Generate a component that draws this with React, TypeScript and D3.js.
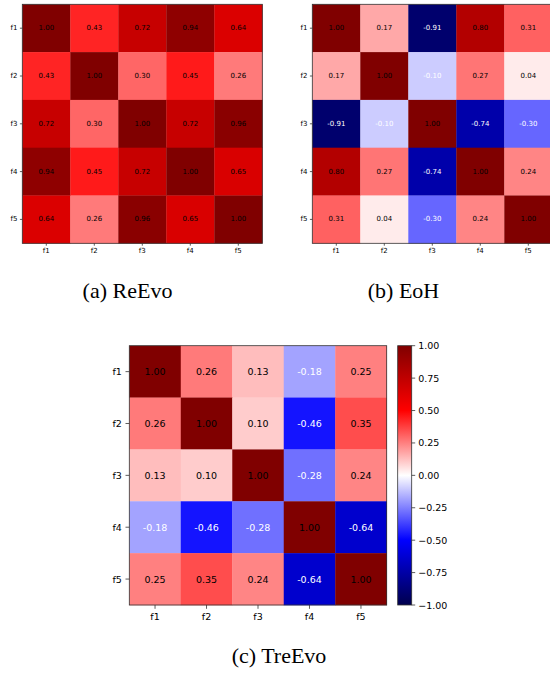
import React from "react";
import * as d3 from "d3";

const labels = ["f1", "f2", "f3", "f4", "f5"];

const reevo = [
  [1.0, 0.43, 0.72, 0.94, 0.64],
  [0.43, 1.0, 0.3, 0.45, 0.26],
  [0.72, 0.3, 1.0, 0.72, 0.96],
  [0.94, 0.45, 0.72, 1.0, 0.65],
  [0.64, 0.26, 0.96, 0.65, 1.0],
];

const eoh = [
  [1.0, 0.17, -0.91, 0.8, 0.31],
  [0.17, 1.0, -0.1, 0.27, 0.04],
  [-0.91, -0.1, 1.0, -0.74, -0.3],
  [0.8, 0.27, -0.74, 1.0, 0.24],
  [0.31, 0.04, -0.3, 0.24, 1.0],
];

const treevo = [
  [1.0, 0.26, 0.13, -0.18, 0.25],
  [0.26, 1.0, 0.1, -0.46, 0.35],
  [0.13, 0.1, 1.0, -0.28, 0.24],
  [-0.18, -0.46, -0.28, 1.0, -0.64],
  [0.25, 0.35, 0.24, -0.64, 1.0],
];

const cbTicks = [1.0, 0.75, 0.5, 0.25, 0.0, -0.25, -0.5, -0.75, -1.0];
const seismicStops = [-1, -0.5, 0, 0.5, 1];
const seismicColors = ["#00004d", "#0000ff", "#ffffff", "#ff0000", "#800000"];

const color = d3.scaleLinear<string>().domain(seismicStops).range(seismicColors).clamp(true);

const SANS = "DejaVu Sans, sans-serif";
const SERIF = "Liberation Serif, Times New Roman, Times, serif";

type HMProps = {
  data: number[][];
  x0: number;
  y0: number;
  w: number;
  h: number;
  font: number;
  tick: number;
  pad: number;
};

function Heatmap({ data, x0, y0, w, h, font, tick, pad }: HMProps) {
  const xs = d3.scaleBand().domain(labels).range([x0, x0 + w]);
  const ys = d3.scaleBand().domain(labels).range([y0, y0 + h]);
  const bw = xs.bandwidth();
  const bh = ys.bandwidth();
  return (
    <g>
      {data.map((row, i) =>
        row.map((v, j) => (
          <rect
            key={`c${i}-${j}`}
            x={xs(labels[j])!}
            y={ys(labels[i])!}
            width={bw + 0.3}
            height={bh + 0.3}
            fill={color(v)}
          />
        ))
      )}
      {data.map((row, i) =>
        row.map((v, j) => (
          <text
            key={`t${i}-${j}`}
            x={xs(labels[j])! + bw / 2}
            y={ys(labels[i])! + bh / 2}
            textAnchor="middle"
            dominantBaseline="central"
            style={{ fontFamily: SANS, fontSize: font }}
            fill={v < 0 ? "#ffffff" : "#000000"}
          >
            {v.toFixed(2)}
          </text>
        ))
      )}
      <rect x={x0} y={y0} width={w} height={h} fill="none" stroke="#333" strokeWidth={0.8} />
      {labels.map((l) => (
        <g key={`y${l}`}>
          <line
            x1={x0 - tick}
            x2={x0}
            y1={ys(l)! + bh / 2}
            y2={ys(l)! + bh / 2}
            stroke="#333"
            strokeWidth={0.8}
          />
          <text
            x={x0 - tick - pad}
            y={ys(l)! + bh / 2}
            textAnchor="end"
            dominantBaseline="central"
            style={{ fontFamily: SANS, fontSize: font }}
            fill="#000"
          >
            {l}
          </text>
        </g>
      ))}
      {labels.map((l) => (
        <g key={`x${l}`}>
          <line
            x1={xs(l)! + bw / 2}
            x2={xs(l)! + bw / 2}
            y1={y0 + h}
            y2={y0 + h + tick}
            stroke="#333"
            strokeWidth={0.8}
          />
          <text
            x={xs(l)! + bw / 2}
            y={y0 + h + tick + pad}
            textAnchor="middle"
            dominantBaseline="hanging"
            style={{ fontFamily: SANS, fontSize: font }}
            fill="#000"
          >
            {l}
          </text>
        </g>
      ))}
    </g>
  );
}

function Colorbar({ x0, y0, w, h }: { x0: number; y0: number; w: number; h: number }) {
  const s = d3.scaleLinear().domain([-1, 1]).range([y0 + h, y0]);
  return (
    <g>
      <defs>
        <linearGradient id="seis" x1="0" y1="1" x2="0" y2="0">
          {seismicStops.map((v, i) => (
            <stop key={i} offset={`${((v + 1) / 2) * 100}%`} stopColor={seismicColors[i]} />
          ))}
        </linearGradient>
      </defs>
      <rect x={x0} y={y0} width={w} height={h} fill="url(#seis)" stroke="#333" strokeWidth={0.8} />
      {cbTicks.map((t) => (
        <g key={t}>
          <line x1={x0 + w} x2={x0 + w + 3.5} y1={s(t)} y2={s(t)} stroke="#333" strokeWidth={0.8} />
          <text
            x={x0 + w + 6.5}
            y={s(t)}
            dominantBaseline="central"
            style={{ fontFamily: SANS, fontSize: 9.5 }}
            fill="#000"
          >
            {t < 0 ? "\u2212" + Math.abs(t).toFixed(2) : t.toFixed(2)}
          </text>
        </g>
      ))}
    </g>
  );
}

const captionStyle = { fontFamily: SERIF, fontSize: 22 };

export default function App() {
  return (
    <svg
      width={550}
      height={673}
      style={{ position: "absolute", left: 0, top: 0, background: "#fff" }}
    >
      <rect width={550} height={673} fill="#fff" />
      <Heatmap data={reevo} x0={22.3} y0={4.3} w={240} h={239} font={7} tick={2.4} pad={2.5} />
      <Heatmap data={eoh} x0={312.3} y0={4.3} w={240} h={239} font={7} tick={2.4} pad={2.5} />
      <Heatmap data={treevo} x0={129.3} y0={345.7} w={257.4} h={259.3} font={9.5} tick={3.8} pad={3.6} />
      <Colorbar x0={397.7} y0={345.7} w={14} h={259.3} />
      <text x={127.5} y={298} textAnchor="middle" style={captionStyle} fill="#000">
        (a) ReEvo
      </text>
      <text x={403.5} y={298} textAnchor="middle" style={captionStyle} fill="#000">
        (b) EoH
      </text>
      <text x={279} y={662.7} textAnchor="middle" style={captionStyle} fill="#000">
        (c) TreEvo
      </text>
    </svg>
  );
}
